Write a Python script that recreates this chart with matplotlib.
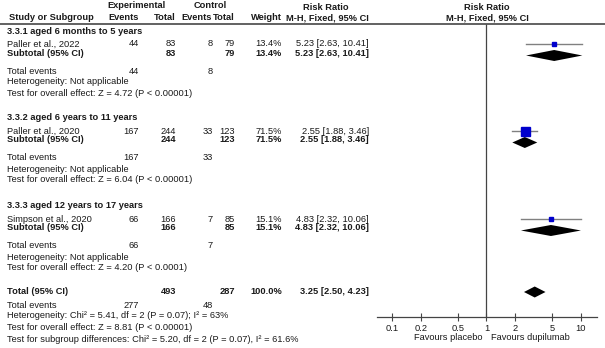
import numpy as np
import matplotlib
matplotlib.use("Agg")
import matplotlib.pyplot as plt

plt.rcParams['font.family'] = ['Liberation Sans', 'DejaVu Sans']

# datos del forest plot
groups = ["3.3.1 aged 6 months to 5 years", "3.3.2 aged 6 years to 11 years",
          "3.3.3 aged 12 years to 17 years"]
studies = ["Paller et al., 2022", "Paller et al., 2020", "Simpson et al., 2020"]
exp_events = [44, 167, 66]
exp_total = [83, 244, 166]
ctl_events = [8, 33, 7]
ctl_total = [79, 123, 85]
weights = [13.4, 71.5, 15.1]
rr = [5.23, 2.55, 4.83]
ci_lo = [2.63, 1.88, 2.32]
ci_hi = [10.41, 3.46, 10.06]
z_tests = ["Z = 4.72 (P < 0.00001)", "Z = 6.04 (P < 0.00001)", "Z = 4.20 (P < 0.0001)"]

total_exp, total_ctl = 493, 287
total_exp_events, total_ctl_events = 277, 48
total_rr, total_lo, total_hi = 3.25, 2.50, 4.23
total_het = "Heterogeneity: Chi² = 5.41, df = 2 (P = 0.07); I² = 63%"
total_z = "Test for overall effect: Z = 8.81 (P < 0.00001)"
subgroup_test = "Test for subgroup differences: Chi² = 5.20, df = 2 (P = 0.07), I² = 61.6%"

ticks = [0.1, 0.2, 0.5, 1, 2, 5, 10]
tick_labels = ["0.1", "0.2", "0.5", "1", "2", "5", "10"]

W, H = 605, 348
fs = 6.7
tc = "#1a1a1a"

fig = plt.figure(figsize=(W / 100, H / 100), dpi=100)
ax = fig.add_axes([0, 0, 1, 1])
ax.set_xlim(0, W)
ax.set_ylim(H, 0)
ax.axis("off")

# columnas (px)
x_name, x_ee, x_et, x_ce, x_ct, x_w, x_ci = 7, 139, 176, 213, 235, 282, 369


def txt(x, y, s, ha="left", bold=False):
    ax.text(x, y, s, ha=ha, va="center", fontsize=fs, color=tc,
            fontweight="bold" if bold else "normal")


# cabecera
txt(137, 6, "Experimental", ha="center", bold=True)
txt(210, 6, "Control", ha="center", bold=True)
txt(326, 7, "Risk Ratio", ha="center", bold=True)
txt(487, 7, "Risk Ratio", ha="center", bold=True)
txt(9, 18, "Study or Subgroup", bold=True)
txt(x_ee, 18, "Events", ha="right", bold=True)
txt(x_et, 18, "Total", ha="right", bold=True)
txt(x_ce - 1, 18, "Events", ha="right", bold=True)
txt(x_ct, 18, "Total", ha="right", bold=True)
txt(x_w, 18, "Weight", ha="right", bold=True)
txt(327, 18, "M-H, Fixed, 95% CI", ha="center", bold=True)
txt(487, 18, "M-H, Fixed, 95% CI", ha="center", bold=True)
ax.plot([0, W], [24, 24], color="#555555", lw=1.3)

# eje del forest plot
lx, rx = 377, 597
x1, dec = 486.5, 94.2
fax = fig.add_axes([lx / W, 0, (rx - lx) / W, 1])
fax.set_xscale("log")
fax.set_xlim(10 ** ((lx - x1) / dec), 10 ** ((rx - x1) / dec))
fax.set_ylim(H, 0)
fax.patch.set_alpha(0)
for s in ["top", "left", "right"]:
    fax.spines[s].set_visible(False)
fax.spines["bottom"].set_position(("data", 317))
fax.spines["bottom"].set_color("#444444")
fax.spines["bottom"].set_linewidth(0.9)
fax.set_yticks([])
fax.set_xticks(ticks)
fax.set_xticklabels(tick_labels)
fax.xaxis.set_minor_locator(matplotlib.ticker.NullLocator())
fax.tick_params(axis="x", direction="inout", length=6, width=0.8, color="#444444",
                labelsize=fs, labelcolor=tc, pad=2)
fax.vlines(1, 24, 317, color="#444444", lw=0.9)


def diamond(y, est, lo, hi, h=5.5):
    fax.fill([lo, est, hi, est], [y, y - h, y, y + h], color="black", lw=0)


group_y0 = [31, 118, 206]
for i, y0 in enumerate(group_y0):
    txt(x_name, y0, groups[i], bold=True)
    ys = y0 + 13
    txt(x_name, ys, studies[i])
    txt(x_ee, ys, str(exp_events[i]), ha="right")
    txt(x_et, ys, str(exp_total[i]), ha="right")
    txt(x_ce, ys, str(ctl_events[i]), ha="right")
    txt(x_ct, ys, str(ctl_total[i]), ha="right")
    txt(x_w, ys, f"{weights[i]:.1f}%", ha="right")
    txt(x_ci, ys, f"{rr[i]:.2f} [{ci_lo[i]:.2f}, {ci_hi[i]:.2f}]", ha="right")
    ysub = y0 + 22
    txt(x_name, ysub, "Subtotal (95% CI)", bold=True)
    txt(x_et, ysub, str(exp_total[i]), ha="right", bold=True)
    txt(x_ct, ysub, str(ctl_total[i]), ha="right", bold=True)
    txt(x_w, ysub, f"{weights[i]:.1f}%", ha="right", bold=True)
    txt(x_ci, ysub, f"{rr[i]:.2f} [{ci_lo[i]:.2f}, {ci_hi[i]:.2f}]", ha="right", bold=True)
    txt(x_name, y0 + 40, "Total events")
    txt(x_ee, y0 + 40, str(exp_events[i]), ha="right")
    txt(x_ce, y0 + 40, str(ctl_events[i]), ha="right")
    txt(x_name, y0 + 51, "Heterogeneity: Not applicable")
    txt(x_name, y0 + 62, "Test for overall effect: " + z_tests[i])

    # marcas
    fax.plot([ci_lo[i], ci_hi[i]], [ys, ys], color="#808080", lw=1.0)
    side = 9 * np.sqrt(weights[i] / max(weights))
    fax.plot([rr[i]], [ys], marker="s", ms=side * 0.72, color="#0000cc", mec="#0000cc")
    diamond(y0 + 24.5, rr[i], ci_lo[i], ci_hi[i])

# total
txt(x_name, 291, "Total (95% CI)", bold=True)
txt(x_et, 291, str(total_exp), ha="right", bold=True)
txt(x_ct, 291, str(total_ctl), ha="right", bold=True)
txt(x_w, 291, "100.0%", ha="right", bold=True)
txt(x_ci, 291, f"{total_rr:.2f} [{total_lo:.2f}, {total_hi:.2f}]", ha="right", bold=True)
txt(x_name, 305, "Total events")
txt(x_ee, 305, str(total_exp_events), ha="right")
txt(x_ce, 305, str(total_ctl_events), ha="right")
txt(x_name, 316, total_het)
txt(x_name, 328, total_z)
txt(x_name, 340, subgroup_test)
diamond(292, total_rr, total_lo, total_hi)

txt(483, 337, "Favours placebo", ha="right")
txt(491, 337, "Favours dupilumab", ha="left")

fig.savefig("out.png", dpi=100)
